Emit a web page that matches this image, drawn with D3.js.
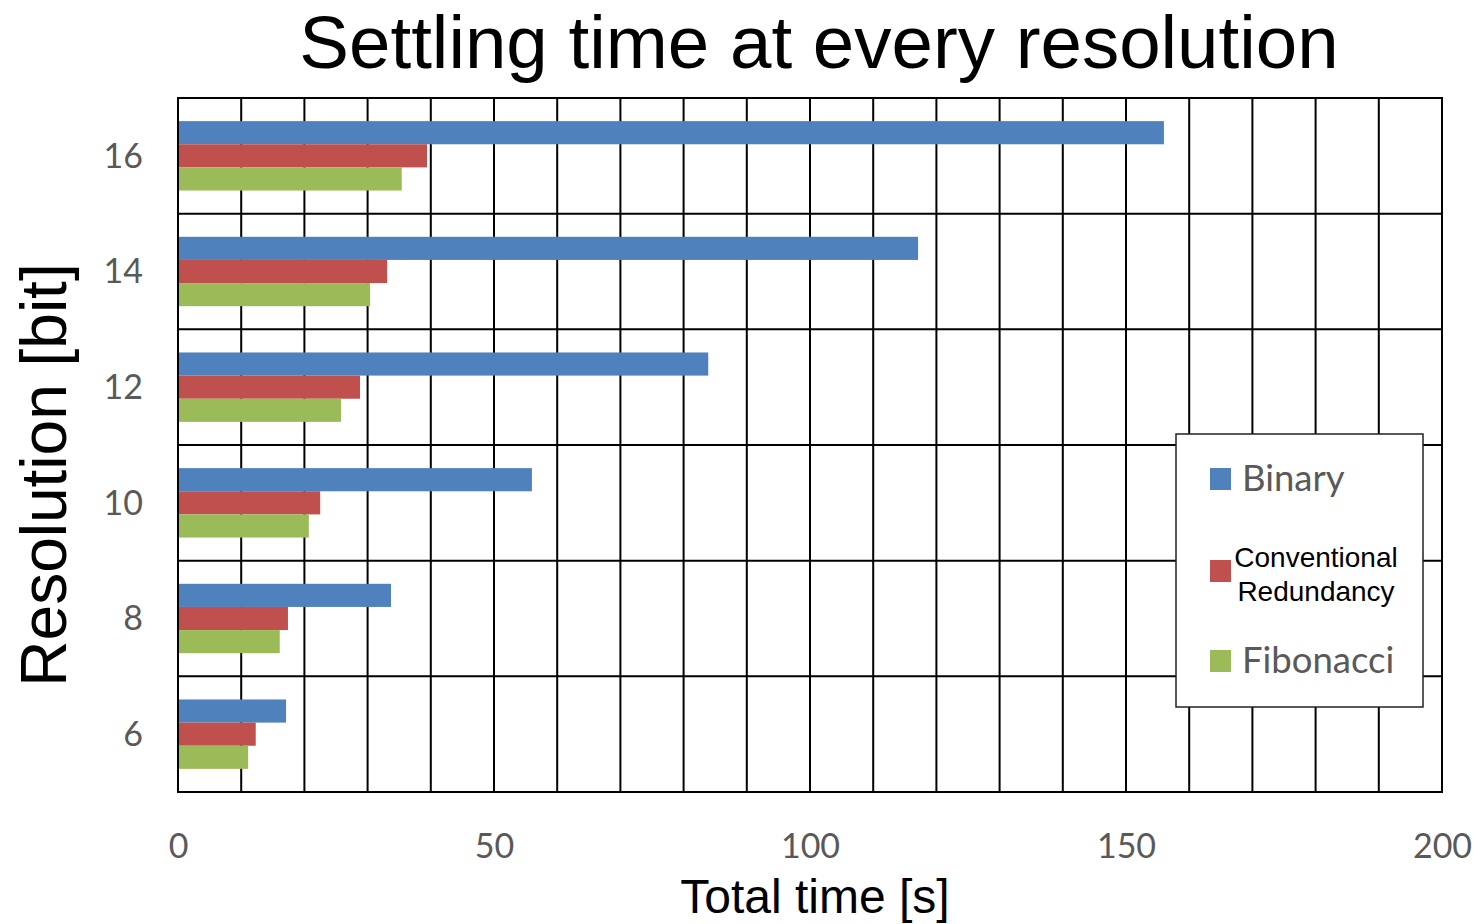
<!DOCTYPE html>
<html><head><meta charset="utf-8">
<script src="https://cdn.jsdelivr.net/npm/d3@7"></script>
<style>html,body{margin:0;padding:0;background:#fff;}svg{display:block;}</style>
</head><body>
<script>
const categories = ["16", "14", "12", "10", "8", "6"];
const seriesNames = ["Binary", "Conventional Redundancy", "Fibonacci"];
const binary = [156.0, 117.1, 83.9, 56.0, 33.7, 17.1];
const conventional = [39.4, 33.1, 28.8, 22.5, 17.4, 12.3];
const fibonacci = [35.4, 30.4, 25.8, 20.7, 16.1, 11.1];
const xTicks = [0, 50, 100, 150, 200];
const colors = ["#4F81BD", "#C0504D", "#9BBB59"];

const W = 1476, H = 924;
const m = {left: 178, right: 1442, top: 98, bottom: 792};
const svg = d3.select("body").append("svg").attr("width", W).attr("height", H);

const x = d3.scaleLinear().domain([0, 200]).range([m.left, m.right]);
const y = d3.scaleBand().domain(categories).range([m.top, m.bottom]).padding(0);
const inner = d3.scaleBand().domain(seriesNames).range([y.bandwidth()*0.2, y.bandwidth()*0.8]).padding(0);

const allSeries = [binary, conventional, fibonacci];

// gridlines (behind bars)
const grid = svg.append("g").attr("stroke", "#000").attr("stroke-width", 2);
grid.selectAll("line.v").data(d3.range(10, 200, 10)).join("line")
  .attr("x1", d => x(d)).attr("x2", d => x(d)).attr("y1", m.top).attr("y2", m.bottom);
grid.selectAll("line.h").data(categories.slice(1)).join("line")
  .attr("x1", m.left).attr("x2", m.right).attr("y1", d => y(d)).attr("y2", d => y(d));

// bars
allSeries.forEach((vals, si) => {
  svg.append("g").selectAll("rect").data(vals).join("rect")
    .attr("x", x(0))
    .attr("y", (d, i) => y(categories[i]) + inner(seriesNames[si]))
    .attr("width", d => x(d) - x(0))
    .attr("height", inner.bandwidth())
    .attr("fill", colors[si]);
});

svg.append("rect").attr("x", m.left).attr("y", m.top).attr("width", m.right - m.left).attr("height", m.bottom - m.top)
  .attr("fill", "none").attr("stroke", "#000").attr("stroke-width", 2);

// x axis
const xAxis = d3.axisBottom(x).tickValues(xTicks).tickSize(0).tickPadding(0);
const gx = svg.append("g").attr("transform", `translate(0, ${m.bottom + 66})`).call(xAxis);
gx.select(".domain").remove();
gx.selectAll("text").attr("font-family", "Lato, 'Open Sans', sans-serif").attr("font-size", 34)
  .attr("fill", "#595959").attr("dy", 0);

// y axis
const yAxis = d3.axisLeft(y).tickSize(0).tickPadding(35);
const gy = svg.append("g").attr("transform", `translate(${m.left}, 0)`).call(yAxis);
gy.select(".domain").remove();
gy.selectAll("text").attr("font-family", "Lato, 'Open Sans', sans-serif").attr("font-size", 34)
  .attr("fill", "#595959").attr("dy", "0.35em");

// titles
svg.append("text").attr("x", 819).attr("y", 68).attr("text-anchor", "middle")
  .attr("font-family", "'Liberation Sans', Arial, sans-serif").attr("font-size", 74.5).attr("fill", "#000")
  .text("Settling time at every resolution");

svg.append("text").attr("x", 815).attr("y", 913).attr("text-anchor", "middle")
  .attr("font-family", "'Liberation Sans', Arial, sans-serif").attr("font-size", 48).attr("fill", "#000")
  .text("Total time [s]");

svg.append("text").attr("transform", "translate(66, 475) rotate(-90)").attr("text-anchor", "middle")
  .attr("font-family", "'Liberation Sans', Arial, sans-serif").attr("font-size", 64).attr("fill", "#000")
  .text("Resolution [bit]");

// legend
const lg = svg.append("g");
lg.append("rect").attr("x", 1176).attr("y", 434).attr("width", 247).attr("height", 273)
  .attr("fill", "#fff").attr("stroke", "#222").attr("stroke-width", 1.5);
const legY = [479, 571, 661];
seriesNames.forEach((s, i) => {
  lg.append("rect").attr("x", 1210).attr("y", legY[i] - 11).attr("width", 21).attr("height", 22).attr("fill", colors[i]);
});
lg.append("text").attr("x", 1242).attr("y", legY[0] + 12)
  .attr("font-family", "Lato, 'Open Sans', sans-serif").attr("font-size", 36.5).attr("fill", "#595959").text("Binary");
lg.append("text").attr("x", 1242).attr("y", legY[2] + 12)
  .attr("font-family", "Lato, 'Open Sans', sans-serif").attr("font-size", 36.5).attr("fill", "#595959").text("Fibonacci");
const ct = lg.append("text").attr("text-anchor", "middle")
  .attr("font-family", "'Liberation Sans', Arial, sans-serif").attr("font-size", 28).attr("fill", "#000");
ct.append("tspan").attr("x", 1316).attr("y", 567).text("Conventional");
ct.append("tspan").attr("x", 1316).attr("y", 601).text("Redundancy");
</script>
</body></html>
